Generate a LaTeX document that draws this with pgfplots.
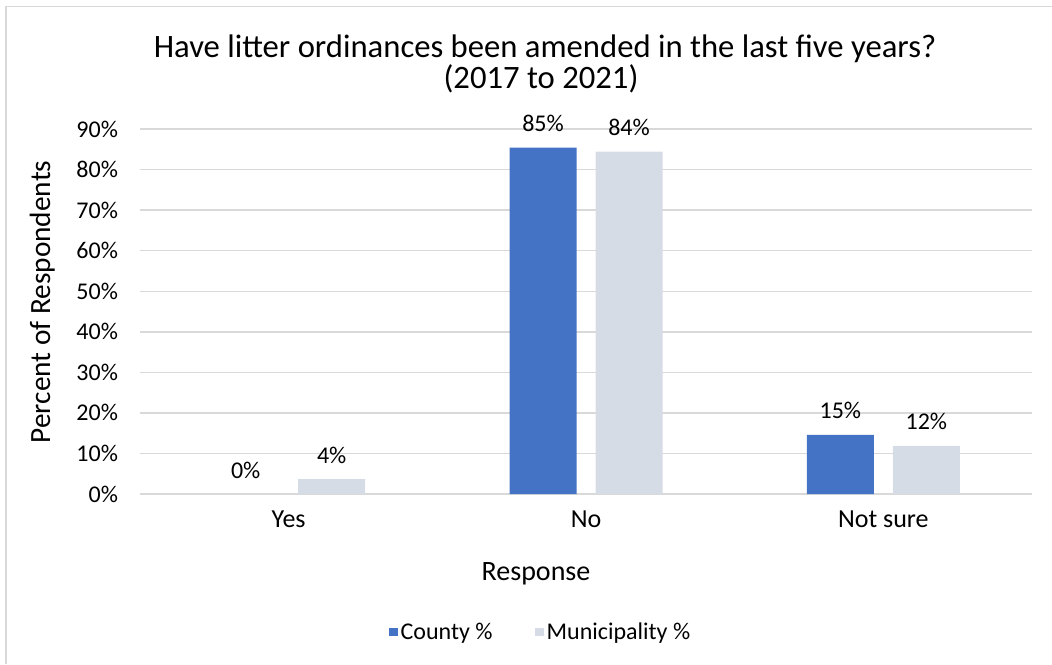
\documentclass[border=0pt]{standalone}
\usepackage{fontspec}
\setmainfont{Carlito}
\usepackage{pgfplots}
\pgfplotsset{compat=1.18}
\definecolor{cblue}{HTML}{4472C4}
\definecolor{cgray}{HTML}{D6DCE5}
\definecolor{gridc}{HTML}{D9D9D9}
\begin{document}
\begin{tikzpicture}
\begin{scope}[x=0.75pt,y=-0.75pt]
\useasboundingbox (0,0) rectangle (1052,664);
\draw[gridc, line width=1.2pt] (6,664) -- (6,6.5) -- (1052,6.5);
\node[anchor=base, font=\fontsize{24.5}{28}\selectfont] at (545,57) {Have litter ordinances been amended in the last five years?};
\node[anchor=base, font=\fontsize{24.5}{28}\selectfont] at (541,88) {(2017 to 2021)};
\node[anchor=base, font=\fontsize{21}{25}\selectfont] at (536,580) {Response};
\node[anchor=base, rotate=90, font=\fontsize{22}{26}\selectfont] at (50,302) {Percent of Respondents};
\end{scope}
\begin{axis}[
  at={(105pt,-370.5pt)}, anchor=south west,
  scale only axis, width=669pt, height=273.75pt,
  ymin=0, ymax=90, xmin=-0.5, xmax=2.5,
  ybar,
  axis line style={draw=none},
  major tick length=0pt,
  ymajorgrids, grid style={gridc, line width=1.1pt},
  ytick={0,10,...,90},
  yticklabel={\pgfmathprintnumber{\tick}\%},
  xtick={0,1,2},
  xticklabels={Yes,No,Not sure},
  /pgf/number format/assume math mode=true,
  yticklabel style={font=\fontsize{18}{21}\selectfont, xshift=-13pt},
  xticklabel style={font=\fontsize{19.5}{23}\selectfont, anchor=center, yshift=-22.5pt, text height=1.5ex, text depth=0.25ex},
  nodes near coords={\pgfmathprintnumber[fixed,precision=0]{\pgfplotspointmeta}\%},
  every node near coord/.append style={font=\fontsize{18}{21}\selectfont, anchor=center, yshift=18pt, text=black},
  legend style={at={(0.4496,-0.378)}, anchor=center, draw=none, fill=none,
    legend columns=2, font=\fontsize{18}{21}\selectfont,
    /tikz/every even column/.append style={column sep=30pt}},
  legend image code/.code={\fill[#1, xshift=-3pt] (0pt,-0.33em) rectangle (0.66em,0.33em);},
]
% County %
\addplot[fill=cblue, draw=none, bar width=50.25pt, bar shift=-32.25pt] coordinates {(1,85.4) (2,14.6)};
% Municipality %
\addplot[fill=cgray, draw=none, bar width=50.25pt, bar shift=32.25pt] coordinates {(0,3.7) (1,84.4) (2,11.9)};
% County % for "Yes" (0%, label only)
\addplot[fill=none, draw=none, bar width=50.25pt, bar shift=-32.25pt, forget plot] coordinates {(0,0)};
\legend{County \%, Municipality \%}
\end{axis}
\end{tikzpicture}
\end{document}
